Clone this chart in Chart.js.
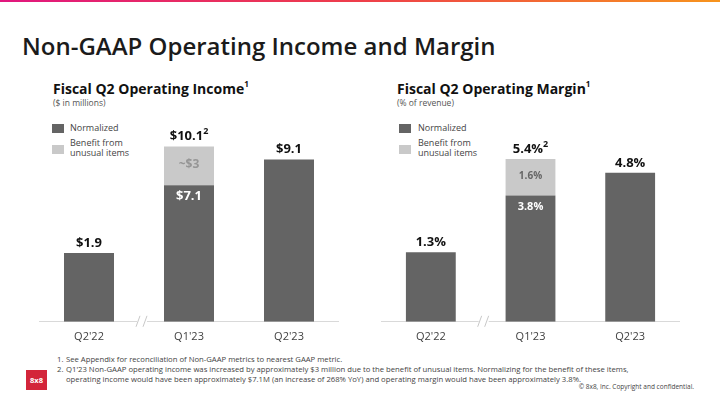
<!DOCTYPE html>
<html>
<head>
<meta charset="utf-8">
<script src="https://cdn.jsdelivr.net/npm/chart.js@4.4.0/dist/chart.umd.min.js"></script>
<style>
  body { margin: 0; width: 720px; height: 405px; position: relative; overflow: hidden; background: #fff; font-family: "Open Sans", sans-serif; color: #222; }
  .abs { position: absolute; white-space: nowrap; line-height: 1; }
  .topbar { position: absolute; left: 0; top: 0; width: 720px; height: 2px; background: linear-gradient(90deg, #e1177e, #ee3e4a 50%, #f7941d); }
  .title { left: 22px; top: 33.5px; font-size: 24px; font-weight: 600; color: #1b1b1b; }
  .sub { font-size: 14px; font-weight: 700; color: #111; top: 82px; }
  .sub sup { font-size: 8px; vertical-align: 7px; line-height: 0; }
  .unit { font-size: 8.5px; color: #555; top: 99px; }
  .lg { font-size: 9px; color: #444; line-height: 10px; }
  .sw { position: absolute; width: 12px; height: 9px; }
  .fn { left: 57px; top: 353.5px; font-size: 7.7px; line-height: 10px; color: #444; }
  .fn td { padding: 0; vertical-align: top; }
  canvas { position: absolute; }
  .logo { left: 26px; top: 370px; width: 21px; height: 20px; background: #d3253a; color: #fff; font-size: 7.5px; font-weight: 700; text-align: center; line-height: 20px; }
</style>
</head>
<body>
<div class="topbar"></div>
<div class="abs title">Non-GAAP Operating Income and Margin</div>

<div class="abs sub" style="left:53px">Fiscal Q2 Operating Income<sup>1</sup></div>
<div class="abs unit" style="left:53px">($ in millions)</div>
<div class="sw" style="left:52px;top:124px;background:#646464"></div>
<div class="abs lg" style="left:70px;top:123px">Normalized</div>
<div class="sw" style="left:52px;top:145px;background:#c9c9c9"></div>
<div class="abs lg" style="left:70px;top:138px">Benefit from<br>unusual items</div>

<div class="abs sub" style="left:397px">Fiscal Q2 Operating Margin<sup>1</sup></div>
<div class="abs unit" style="left:397px">(% of revenue)</div>
<div class="sw" style="left:399px;top:124px;background:#646464"></div>
<div class="abs lg" style="left:418px;top:123px">Normalized</div>
<div class="sw" style="left:399px;top:145px;background:#c9c9c9"></div>
<div class="abs lg" style="left:418px;top:138px">Benefit from<br>unusual items</div>

<canvas id="incomeChart" width="300" height="241" style="left:39px;top:110px"></canvas>
<canvas id="marginChart" width="299" height="241" style="left:381px;top:110px"></canvas>

<table class="abs fn" cellspacing="0">
  <tr><td style="width:9px">1.</td><td>See Appendix for reconciliation of Non-GAAP metrics to nearest GAAP metric.</td></tr>
  <tr><td>2.</td><td>Q1'23 Non-GAAP operating income was increased by approximately $3 million due to the benefit of unusual items. Normalizing for the benefit of these items,<br>operating income would have been approximately $7.1M (an increase of 268% YoY) and operating margin would have been approximately 3.8%.</td></tr>
</table>
<div class="abs" style="right:26px;top:384px;font-size:6.5px;color:#444">© 8x8, Inc. Copyright and confidential.</div>
<div class="abs logo">8x8</div>

<script>
// data
const categories = ["Q2'22", "Q1'23", "Q2'23"];
const incomeNormalized = [1.9, 7.1, 9.1];
const incomeBenefit = [0, 3, 0];
const marginNormalized = [1.3, 3.8, 4.8];
const marginBenefit = [0, 1.6, 0];
const footnoteMarks = ["", "2", ""];

const DARK = "#646464";
const LIGHT = "#c9c9c9";

// value labels above and inside the bars
const barLabels = {
  id: "barLabels",
  afterDatasetsDraw(chart, args, opts) {
    const ctx = chart.ctx;
    const m0 = chart.getDatasetMeta(0);
    const m1 = chart.getDatasetMeta(1);
    const norm = chart.data.datasets[0].data;
    const ben = chart.data.datasets[1].data;
    ctx.save();
    ctx.textAlign = "center";
    norm.forEach((v, i) => {
      const x = m0.data[i].x;
      const hasB = ben[i] > 0;
      const topY = hasB ? m1.data[i].y : m0.data[i].y;
      const txt = opts.top(v + ben[i]);
      ctx.font = "bold 13px 'Open Sans'";
      ctx.fillStyle = "#111";
      ctx.textBaseline = "alphabetic";
      const mark = footnoteMarks[i];
      if (mark) {
        const w = ctx.measureText(txt).width;
        ctx.font = "bold 9px 'Open Sans'";
        const ws = ctx.measureText(mark).width;
        const x0 = x - (w + ws) / 2;
        ctx.textAlign = "left";
        ctx.fillText(mark, x0 + w, topY - 12);
        ctx.font = "bold 13px 'Open Sans'";
        ctx.fillText(txt, x0, topY - 6);
        ctx.textAlign = "center";
      } else {
        ctx.fillText(txt, x, topY - 6);
      }
      if (hasB) {
        ctx.textBaseline = "middle";
        ctx.font = opts.innerFont;
        ctx.fillStyle = "#fff";
        ctx.fillText(opts.inner(v), x, m0.data[i].y + 11);
        ctx.font = opts.benefitFont;
        ctx.fillStyle = opts.benefitColor;
        ctx.fillText(opts.benefit(ben[i]), x, (m0.data[i].y + m1.data[i].y) / 2 - 1);
      }
    });
    ctx.restore();
  }
};

// the // mark on the axis between the first two quarters
const axisBreak = {
  id: "axisBreak",
  afterDraw(chart) {
    const xs = chart.scales.x;
    const ctx = chart.ctx;
    const cx = (xs.getPixelForValue(0) + xs.getPixelForValue(1)) / 2 + 3;
    const y = chart.chartArea.bottom;
    ctx.save();
    ctx.fillStyle = "#fff";
    ctx.fillRect(cx - 5, y - 2, 10, 4);
    ctx.strokeStyle = "#c8c8c8";
    ctx.lineWidth = 1;
    [-4, 3].forEach(dx => {
      ctx.beginPath();
      ctx.moveTo(cx + dx - 2, y + 5);
      ctx.lineTo(cx + dx + 2, y - 6);
      ctx.stroke();
    });
    ctx.restore();
  }
};

function makeChart(id, normalized, benefit, yMin, yMax, labelOpts) {
  return new Chart(document.getElementById(id), {
    type: "bar",
    data: {
      labels: categories,
      datasets: [
        { label: "Normalized", data: normalized, backgroundColor: DARK, base: yMin },
        { label: "Benefit from unusual items", data: benefit, backgroundColor: LIGHT }
      ]
    },
    options: {
      responsive: false,
      animation: false,
      barPercentage: 0.5,
      categoryPercentage: 1,
      layout: { padding: 0 },
      plugins: {
        legend: { display: false },
        tooltip: { enabled: false },
        barLabels: labelOpts
      },
      scales: {
        x: {
          stacked: true,
          grid: { display: false, drawTicks: false },
          border: { display: true, color: "#d9d9d9", width: 1 },
          ticks: { padding: 8, color: "#404040", font: { family: "'Open Sans'", size: 11 } }
        },
        y: { stacked: true, display: false, min: yMin, max: yMax }
      }
    },
    plugins: [barLabels, axisBreak]
  });
}

makeChart("incomeChart", incomeNormalized, incomeBenefit, -3.4, 12.9, {
  top: v => "$" + v.toFixed(1),
  inner: v => "$" + v.toFixed(1),
  benefit: v => "~$" + v,
  innerFont: "bold 13px 'Open Sans'",
  benefitFont: "bold 12px 'Open Sans'",
  benefitColor: "#969696"
});

makeChart("marginChart", marginNormalized, marginBenefit, -1.75, 7.55, {
  top: v => v.toFixed(1) + "%",
  inner: v => v.toFixed(1) + "%",
  benefit: v => v.toFixed(1) + "%",
  innerFont: "bold 11px 'Open Sans'",
  benefitFont: "bold 10px 'Open Sans'",
  benefitColor: "#666"
});
</script>
</body>
</html>
